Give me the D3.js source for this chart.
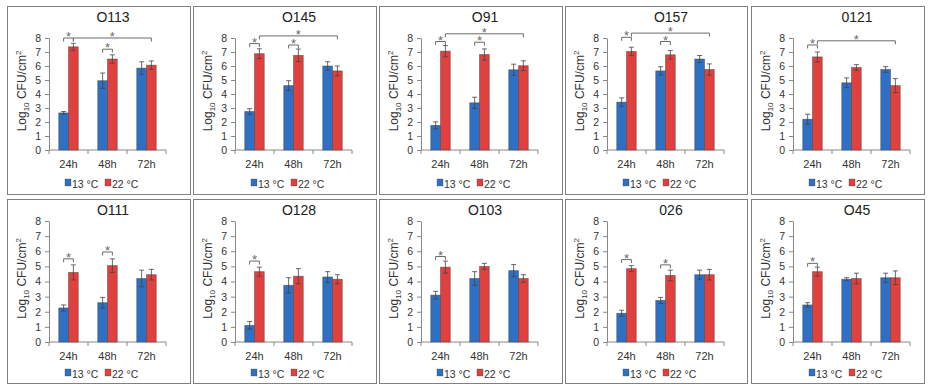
<!DOCTYPE html>
<html>
<head>
<meta charset="utf-8">
<script src="https://cdn.jsdelivr.net/npm/d3@7"></script>
<style>
body { margin: 0; background: #fff; }
svg { display: block; font-family: "Liberation Sans", Arial, sans-serif; }
</style>
</head>
<body>
<script>

// panel titles, read left to right, top row then bottom row
var strains = ["O113", "O145", "O91", "O157", "0121", "O111", "O128", "O103", "026", "O45"];
var times = ["24h", "48h", "72h"];
var temps = ["13 °C", "22 °C"];

// mean log10 CFU/cm2 for each strain at 24h, 48h, 72h
var mean13 = [[2.65, 4.95, 5.85], [2.75, 4.6, 6.0], [1.76, 3.37, 5.73], [3.42, 5.65, 6.5], [2.2, 4.8, 5.75],
              [2.25, 2.6, 4.2], [1.1, 3.75, 4.3], [3.1, 4.2, 4.72], [1.9, 2.75, 4.45], [2.45, 4.15, 4.25]];
var mean22 = [[7.37, 6.5, 6.06], [6.88, 6.76, 5.65], [7.06, 6.82, 6.02], [7.04, 6.8, 5.75], [6.65, 5.9, 4.6],
              [4.6, 5.05, 4.45], [4.65, 4.35, 4.15], [4.95, 5.0, 4.2], [4.85, 4.4, 4.45], [4.65, 4.2, 4.25]];
var err13 = [[0.1, 0.55, 0.45], [0.2, 0.35, 0.3], [0.25, 0.4, 0.4], [0.3, 0.3, 0.25], [0.35, 0.35, 0.2],
             [0.2, 0.35, 0.55], [0.25, 0.5, 0.35], [0.25, 0.45, 0.4], [0.2, 0.2, 0.3], [0.15, 0.1, 0.3]];
var err22 = [[0.25, 0.3, 0.3], [0.35, 0.45, 0.35], [0.4, 0.4, 0.35], [0.3, 0.3, 0.4], [0.35, 0.2, 0.5],
             [0.5, 0.45, 0.35], [0.3, 0.5, 0.3], [0.4, 0.2, 0.25], [0.2, 0.35, 0.35], [0.3, 0.35, 0.45]];

// significance brackets: [time a, temp a, time b, temp b, height in log units]
var brackets = [
    [[0, 0, 0, 1, 8.0], [0, 1, 2, 1, 8.0], [1, 0, 1, 1, 7.2]],
    [[0, 0, 0, 1, 7.6], [0, 1, 2, 1, 8.15], [1, 0, 1, 1, 7.5]],
    [[0, 0, 0, 1, 7.75], [0, 1, 2, 1, 8.3], [1, 0, 1, 1, 7.7]],
    [[0, 0, 0, 1, 8.05], [0, 1, 2, 1, 8.35], [1, 0, 1, 1, 7.75]],
    [[0, 0, 0, 1, 7.5], [0, 1, 2, 1, 7.8]],
    [[0, 0, 0, 1, 5.5], [1, 0, 1, 1, 5.95]],
    [[0, 0, 0, 1, 5.35]],
    [[0, 0, 0, 1, 5.65]],
    [[0, 0, 0, 1, 5.45], [1, 0, 1, 1, 5.1]],
    [[0, 0, 0, 1, 5.2]]
];

var yTicks = [0, 1, 2, 3, 4, 5, 6, 7, 8];

var width = 930, height = 386;

var svg = d3.select("body")
    .append("svg")
    .attr("width", width)
    .attr("height", height);

var color = d3.scaleOrdinal().domain(temps).range(["#2e70c4", "#e0403e"]);

// panel frames
var colX = [7, 193, 379, 565, 751];
var colW = [184, 184, 184, 183, 174];
var rowY = [6, 199];
var rowH = [188, 184];
var plotTop = [32, 22];
var plotBottom = [144, 143];
var legendY = [182, 179];

strains.forEach(function(name, i) {
    var col = i % 5, row = Math.floor(i / 5);
    var g = svg.append("g").attr("transform", "translate(" + colX[col] + "," + rowY[row] + ")");

    g.append("rect")
        .attr("x", 0.5).attr("y", 0.5)
        .attr("width", colW[col] - 1).attr("height", rowH[row])
        .attr("fill", "none")
        .attr("stroke", "#808080");

    var left = 42;
    var x0 = d3.scaleBand().domain(times).range([left, left + 117]);
    var x1 = d3.scaleBand().domain(temps).range([x0.bandwidth() * 0.25, x0.bandwidth() * 0.75]);
    var y = d3.scaleLinear().domain([0, 8]).range([plotBottom[row], plotTop[row]]);

    // title
    g.append("text")
        .attr("x", left + 64)
        .attr("y", 16)
        .attr("text-anchor", "middle")
        .attr("font-size", 14)
        .attr("fill", "#222")
        .text(name);

    // y axis
    var yAxis = g.append("g")
        .attr("transform", "translate(" + left + ",0)")
        .call(d3.axisLeft(y).tickValues(yTicks).tickSize(4).tickSizeOuter(0).tickPadding(4));
    yAxis.select(".domain").attr("stroke", "#888");
    yAxis.selectAll(".tick line").attr("stroke", "#888");
    yAxis.selectAll(".tick text").attr("font-size", 10.5).attr("fill", "#333")
        .attr("font-family", "Liberation Sans, Arial, sans-serif");

    // y label
    var mid = (y(0) + y(8)) / 2 - 3;
    var lab = g.append("text")
        .attr("transform", "translate(19," + mid + ") rotate(-90)")
        .attr("text-anchor", "middle")
        .attr("font-size", 12)
        .attr("fill", "#333");
    lab.append("tspan").text("Log");
    lab.append("tspan").attr("dy", 3).attr("font-size", 8).text("10");
    lab.append("tspan").attr("dy", -3).text(" CFU/cm");
    lab.append("tspan").attr("dy", -5).attr("font-size", 8).text("2");

    // x axis, ticks between categories
    var x0end = x0.range()[1];
    g.append("line")
        .attr("x1", left).attr("x2", x0end)
        .attr("y1", y(0)).attr("y2", y(0))
        .attr("stroke", "#888");
    var edges = times.map(function(t) { return x0(t); }).concat([x0end]);
    g.selectAll(".xtick")
        .data(edges)
        .enter().append("line")
        .attr("x1", function(d) { return d; })
        .attr("x2", function(d) { return d; })
        .attr("y1", y(0)).attr("y2", y(0) + 4)
        .attr("stroke", "#888");
    g.selectAll(".xlabel")
        .data(times)
        .enter().append("text")
        .attr("x", function(d) { return x0(d) + x0.bandwidth() / 2; })
        .attr("y", y(0) + 18)
        .attr("text-anchor", "middle")
        .attr("font-size", 11)
        .attr("fill", "#333")
        .text(function(d) { return d; });

    // bars
    var rows = [];
    times.forEach(function(t, j) {
        rows.push({time: t, temp: temps[0], v: mean13[i][j], e: err13[i][j]});
        rows.push({time: t, temp: temps[1], v: mean22[i][j], e: err22[i][j]});
    });

    g.selectAll(".bar")
        .data(rows)
        .enter().append("rect")
        .attr("x", function(d) { return x0(d.time) + x1(d.temp); })
        .attr("y", function(d) { return y(d.v); })
        .attr("width", x1.bandwidth())
        .attr("height", function(d) { return y(0) - y(d.v); })
        .attr("fill", function(d) { return color(d.temp); })
        .attr("stroke", "#3d3d3d")
        .attr("stroke-opacity", 0.55)
        .attr("stroke-width", 0.8);

    // error bars
    var eb = g.selectAll(".err")
        .data(rows)
        .enter().append("g")
        .attr("stroke", "#444")
        .attr("stroke-width", 0.8);
    function cx(d) { return x0(d.time) + x1(d.temp) + x1.bandwidth() / 2; }
    eb.append("line")
        .attr("x1", cx).attr("x2", cx)
        .attr("y1", function(d) { return y(d.v - d.e); })
        .attr("y2", function(d) { return y(d.v + d.e); });
    eb.append("line")
        .attr("x1", function(d) { return cx(d) - 2.5; })
        .attr("x2", function(d) { return cx(d) + 2.5; })
        .attr("y1", function(d) { return y(d.v + d.e); })
        .attr("y2", function(d) { return y(d.v + d.e); });
    eb.append("line")
        .attr("x1", function(d) { return cx(d) - 2.5; })
        .attr("x2", function(d) { return cx(d) + 2.5; })
        .attr("y1", function(d) { return y(d.v - d.e); })
        .attr("y2", function(d) { return y(d.v - d.e); });

    // significance brackets
    brackets[i].forEach(function(b) {
        var xa = x0(times[b[0]]) + x1(temps[b[1]]) + x1.bandwidth() / 2;
        var xb = x0(times[b[2]]) + x1(temps[b[3]]) + x1.bandwidth() / 2;
        var yy = y(b[4]);
        g.append("path")
            .attr("d", "M" + xa + "," + (yy + 3.5) + "V" + yy + "H" + xb + "V" + (yy + 3.5))
            .attr("fill", "none")
            .attr("stroke", "#6b6b6b")
            .attr("stroke-width", 1);
        g.append("text")
            .attr("x", (xa + xb) / 2)
            .attr("y", yy + 3)
            .attr("text-anchor", "middle")
            .attr("font-size", 13)
            .attr("fill", "#6b6b6b")
            .text("*");
    });

    // legend
    var ly = legendY[row];
    temps.forEach(function(t, k) {
        var lx = left + 16 + k * 40;
        g.append("rect")
            .attr("x", lx).attr("y", ly - 9)
            .attr("width", 6).attr("height", 7)
            .attr("fill", color(t))
            .attr("stroke", "#3d3d3d")
            .attr("stroke-opacity", 0.5)
            .attr("stroke-width", 0.6);
        g.append("text")
            .attr("x", lx + 7)
            .attr("y", ly)
            .attr("font-size", 10.5)
            .attr("fill", "#333")
            .text(t);
    });
});

</script>
</body>
</html>
